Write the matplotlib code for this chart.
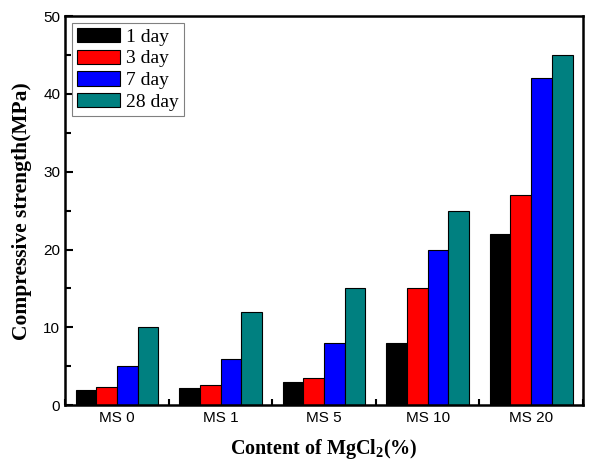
import numpy as np
import matplotlib
matplotlib.use("Agg")
import matplotlib.pyplot as plt
from matplotlib.ticker import MultipleLocator

plt.rcParams['mathtext.fontset'] = 'custom'
plt.rcParams['mathtext.rm'] = 'Liberation Serif'
plt.rcParams['mathtext.bf'] = 'Liberation Serif:bold'

# === Data ===
groups = ['MS 0', 'MS 1', 'MS 5', 'MS 10', 'MS 20']
series = ['1 day', '3 day', '7 day', '28 day']
day1 = [2.0, 2.2, 3.0, 8.0, 22.0]
day3 = [2.4, 2.6, 3.5, 15.0, 27.0]
day7 = [5.0, 6.0, 8.0, 20.0, 42.0]
day28 = [10.0, 12.0, 15.0, 25.0, 45.0]
colors = ['#000000', '#ff0000', '#0000ff', '#008080']

fig = plt.figure(figsize=(5.93, 4.61), dpi=100)
ax = fig.add_axes([0.110, 0.121, 0.873, 0.844])

x = np.arange(len(groups))
w = 0.2
for i, (vals, lab, c) in enumerate(zip([day1, day3, day7, day28], series, colors)):
    ax.bar(x + (i - 1.5) * w, vals, w, color=c, edgecolor='black', linewidth=0.8, label=lab)

ax.set_xlim(-0.5, 4.5)
ax.set_ylim(0, 50)
ax.set_xticks(x)
ax.set_xticklabels(groups, fontname='Liberation Sans', fontsize=11)
ax.xaxis.set_minor_locator(MultipleLocator(1, offset=0.5))
ax.yaxis.set_major_locator(MultipleLocator(10))
ax.yaxis.set_minor_locator(MultipleLocator(5))
for lbl in ax.get_yticklabels():
    lbl.set_fontname('Liberation Sans')
    lbl.set_fontsize(11)
ax.tick_params(axis='x', which='major', length=0, pad=4)
ax.tick_params(axis='x', which='minor', direction='in', length=4, width=1.5)
ax.tick_params(axis='y', which='major', direction='in', length=6, width=1.5)
ax.tick_params(axis='y', which='minor', direction='in', length=4, width=1.5)
for s in ax.spines.values():
    s.set_linewidth(1.8)

ax.set_ylabel('Compressive strength(MPa)', fontname='Liberation Serif', fontweight='bold', fontsize=15.5, labelpad=8)
ax.set_xlabel('Content of MgCl$_\\mathbf{2}$(%)', fontname='Liberation Serif', fontweight='bold', fontsize=14.5, labelpad=9)

leg = ax.legend(loc='upper left', prop={'family': 'Liberation Serif', 'size': 14},
                fancybox=False, edgecolor='gray', framealpha=1,
                handlelength=2.2, handleheight=0.75, labelspacing=0.2,
                borderpad=0.25, handletextpad=0.35, borderaxespad=0.35)
leg.get_frame().set_linewidth(0.8)

plt.savefig('out.png', dpi=100)
